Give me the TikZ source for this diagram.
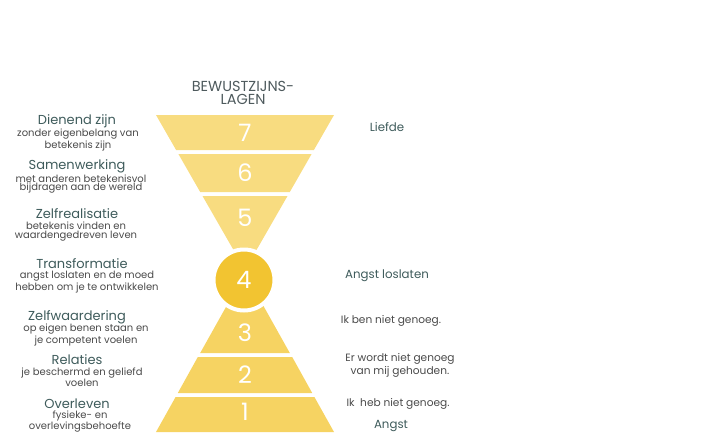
\documentclass[tikz,border=0pt]{standalone}
\usepackage{fontspec}
\setmainfont{Poppins}
\usepackage{tikz}
\usetikzlibrary{calc}
\definecolor{bandtop}{HTML}{F8DC80}
\definecolor{bandbot}{HTML}{F6D362}
\definecolor{core}{HTML}{F2C431}
\definecolor{heading}{HTML}{4E5A5D}
\definecolor{titel}{HTML}{3E5B5B}
\definecolor{uitleg}{HTML}{4A4A4A}

\begin{document}
\begin{tikzpicture}[x=1pt,y=-1pt,
    titel/.style={text=titel,font=\fontsize{13}{14}\selectfont,inner sep=0pt},
    uitleg/.style={text=uitleg,font=\fontsize{10}{8.6}\selectfont,align=center,inner sep=0pt},
    rechts/.style={text=uitleg,font=\fontsize{10.6}{13}\selectfont,align=center,inner sep=0pt},
    cijfer/.style={text=white,font=\fontsize{24}{24}\selectfont,inner sep=0pt}]
      \useasboundingbox (0,0) rectangle (711,444);
      % funnel above
      \fill[bandtop] (156,115) -- (334,115) -- (313.9,150) -- (176.1,150) -- cycle;
      \fill[bandtop] (178.4,154) -- (311.6,154) -- (289.8,192) -- (200.2,192) -- cycle;
      \fill[bandtop] (202.5,196) -- (287.5,196) -- (245,270) -- cycle;
      % pyramid below
      \fill[bandbot] (200.2,353) -- (289.8,353) -- (245,273) -- cycle;
      \fill[bandbot] (197.8,357) -- (292.2,357) -- (312.2,393) -- (177.8,393) -- cycle;
      \fill[bandbot] (175.6,397) -- (314.4,397) -- (334,432) -- (156,432) -- cycle;
      \node (n4) at (244,280) [circle,fill=core,draw=white,line width=4pt,minimum size=61pt] {};
      \node[cijfer] (n7) at (245,133) {7};
      \node[cijfer] (n6) at (245,173) {6};
      \node[cijfer] (n5) at (245,218) {5};
      \node[cijfer] at (n4) {4};
      \node[cijfer] (n3) at (245,333) {3};
      \node[cijfer] (n2) at (245,375) {2};
      \node[cijfer] (n1) at (245,412) {1};
      \node[text=heading,font=\fontsize{14.5}{13}\selectfont,align=center,inner sep=0pt] (kop) at (243,92.5) {BEWUSTZIJNS-\\LAGEN};
      % left side
      \node[titel] (t7) at (77,121.5) {Dienend zijn};
      \node[uitleg] (u7) at (78,140) {zonder eigenbelang van\\betekenis zijn};
      \node[titel] (t6) at (77,166.5) {Samenwerking};
      \node[uitleg] (u6) at (81,184) {met anderen betekenisvol\\bijdragen aan de wereld};
      \node[titel] (t5) at (77,213.5) {Zelfrealisatie};
      \node[uitleg] (u5) at (76,231.5) {betekenis vinden en\\waardengedreven leven};
      \node[titel] (t4) at (82,263.5) {Transformatie};
      \node[uitleg] (u4) at (87,282) {angst loslaten en de moed\\hebben om je te ontwikkelen};
      \node[titel] (t3) at (77,317.5) {Zelfwaardering};
      \node[uitleg] (u3) at (86,335) {op eigen benen staan en\\je competent voelen};
      \node[titel] (t2) at (77,359.5) {Relaties};
      \node[uitleg] (u2) at (82,377.5) {je beschermd en geliefd\\voelen};
      \node[titel] (t1) at (77,403.5) {Overleven};
      \node[uitleg] (u1) at (80,421.5) {fysieke- en\\overlevingsbehoefte};
      % right side
      \node[titel,font=\fontsize{11.8}{13}\selectfont] (liefde) at (387,127) {Liefde};
      \node[titel,font=\fontsize{11.8}{13}\selectfont] (los) at (387,276) {Angst loslaten};
      \node[rechts] (r3) at (391,321) {Ik ben niet genoeg.};
      \node[rechts] (r2) at (400,365) {Er wordt niet genoeg\\van mij gehouden.};
      \node[rechts] (r1) at (398,404) {Ik\ \ heb niet genoeg.};
      \node[titel,font=\fontsize{11.8}{13}\selectfont] (angst) at (391,426) {Angst};
    \end{tikzpicture}
\end{document}
